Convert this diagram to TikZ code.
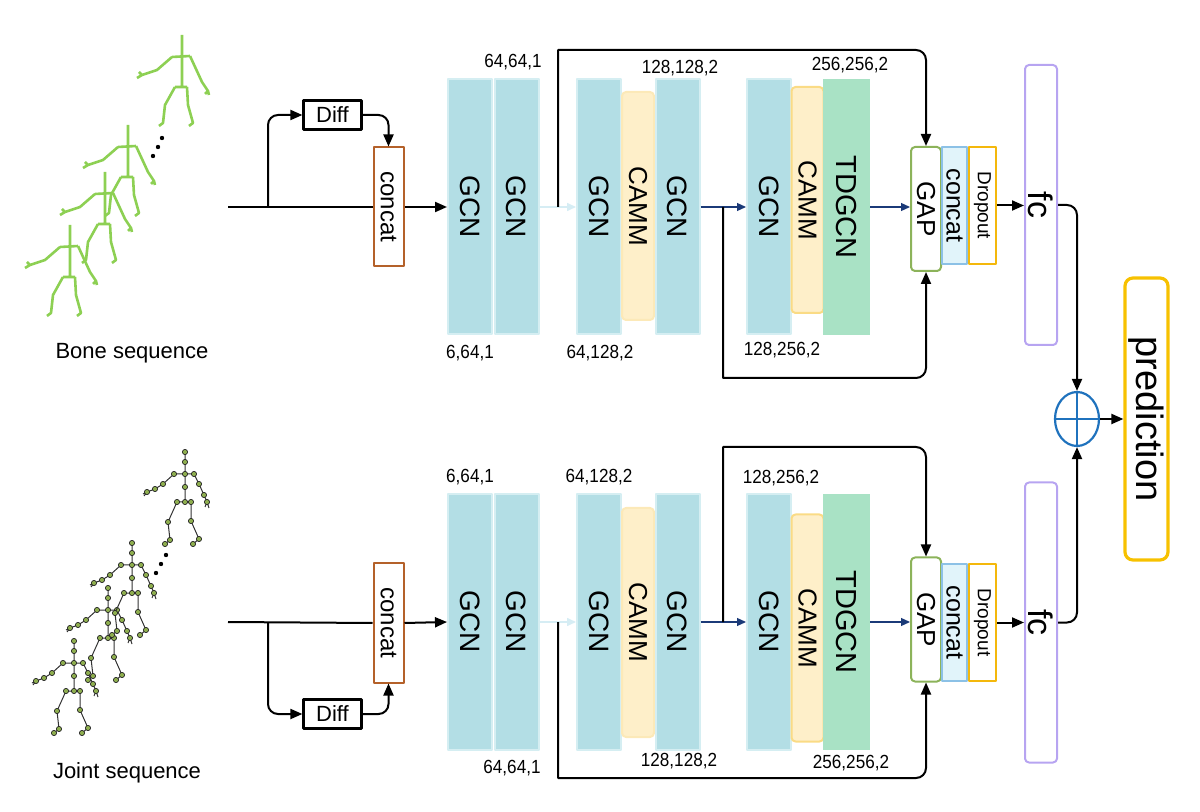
\documentclass[tikz,border=0pt]{standalone}
\usepackage{fontspec}
\setmainfont{Liberation Sans}
\usetikzlibrary{arrows.meta,shapes.geometric}
\definecolor{gcnfill}{HTML}{B3DEE5}
\definecolor{gcnline}{HTML}{D5EEF2}
\definecolor{cammfill}{HTML}{FEEFC9}
\definecolor{cammline}{HTML}{FCE9B8}
\definecolor{tdgfill}{HTML}{A9E2C5}
\definecolor{gapline}{HTML}{8CB35A}
\definecolor{ccfill}{HTML}{E1F4FA}
\definecolor{ccline}{HTML}{8CC1E6}
\definecolor{dropline}{HTML}{F4B80C}
\definecolor{fcline}{HTML}{B7A4F1}
\definecolor{predline}{HTML}{F7C100}
\definecolor{plusline}{HTML}{1F72BD}
\definecolor{catline}{HTML}{B4612A}
\definecolor{navyc}{HTML}{1B3A78}
\definecolor{palec}{HTML}{D6EDF4}
\definecolor{bonec}{HTML}{8DD053}
\definecolor{jdotc}{HTML}{8FAF4F}
\newcommand\vtext[1]{\rotatebox{-90}{#1}}
\newcommand\dimtext[1]{\scalebox{.9}[1]{#1}}
\tikzset{
  gcn/.style={draw=gcnline, line width=1pt, fill=gcnfill, minimum width=22pt, minimum height=127.5pt, inner sep=0pt, font=\fontsize{14}{14}\selectfont},
  camm/.style={draw=cammline, line width=1pt, fill=cammfill, rounded corners=2pt, minimum width=16pt, inner sep=0pt, font=\fontsize{13}{13}\selectfont},
  tdg/.style={fill=tdgfill, minimum width=23.5pt, minimum height=128pt, inner sep=0pt, font=\fontsize{14.5}{14.5}\selectfont},
  catbox/.style={draw=catline, line width=1pt, fill=white, minimum width=15pt, minimum height=59.5pt, inner sep=0pt, font=\fontsize{12}{12}\selectfont},
  diffbox/.style={draw, line width=1.1pt, fill=white, minimum width=29pt, minimum height=14.5pt, inner sep=0pt, font=\fontsize{11}{11}\selectfont},
  gapbox/.style={draw=gapline, line width=1pt, fill=white, rounded corners=2pt, minimum width=15pt, minimum height=62pt, inner sep=0pt, font=\fontsize{13}{13}\selectfont},
  ccbox/.style={draw=ccline, line width=1pt, fill=ccfill, minimum width=12.5pt, minimum height=58.5pt, inner sep=0pt, font=\fontsize{12.5}{12.5}\selectfont},
  dropbox/.style={draw=dropline, line width=1pt, fill=white, minimum width=13.5pt, minimum height=58.5pt, inner sep=0pt, font=\fontsize{9.5}{9.5}\selectfont},
  fcbox/.style={draw=fcline, line width=1pt, rounded corners=2pt, minimum width=16pt, minimum height=140pt, inner sep=0pt, font=\fontsize{17}{17}\selectfont},
  predbox/.style={draw=predline, line width=1.6pt, rounded corners=4pt, minimum width=21.5pt, minimum height=141pt, inner sep=0pt, font=\fontsize{19}{19}\selectfont},
  plusnode/.style={draw=plusline, line width=1.1pt, ellipse, minimum width=22pt, minimum height=27pt, inner sep=0pt},
  dim/.style={font=\fontsize{9.5}{9.5}\selectfont, inner sep=0pt},
  seqlabel/.style={font=\fontsize{11}{11}\selectfont, inner sep=0pt},
  arr/.style={-{Triangle[length=6pt,width=5pt]}, line width=1pt},
  navy/.style={-{Triangle[length=4.5pt,width=4pt]}, draw=navyc, line width=0.6pt},
  pale/.style={-{Triangle[length=4.5pt,width=4pt]}, draw=palec, line width=0.8pt},
  bone/.style={draw=bonec, line width=1.3pt},
  jline/.style={draw=black!80, line width=0.5pt},
  jdot/.style={draw=black!85, fill=jdotc, line width=0.35pt},
  bonefig/.pic={
    \draw[bone] (0,0)--(0,52) (-10,22)--(8,21) (-7,52)--(5,52)
      (-10,22)--(-25,35)--(-40,40)--(-45,43) (-40,40)--(-43,37)
      (8,21)--(20,47)--(26,56)--(27,60) (26,56)--(23,59)
      (-7,52)--(-17,70)--(-19,88)--(-23,91)
      (5,52)--(6,70)--(11,88)--(7,91);
  },
  jointfig/.pic={
    \draw[jline] (0,0)--(0,50) (-11,22)--(9,22) (-8,50)--(6,50)
      (-11,22)--(-22,32)--(-30,37)--(-38,40)--(-42,42) (-38,40)--(-41,44)
      (9,22)--(14,32)--(19,43)--(22,50)--(24,56) (22,50)--(20,55)
      (-8,50)--(-17,70)--(-15,88)--(-20,92)
      (6,50)--(6,69)--(14,87)--(8,92);
    \foreach \u/\v in {0/0,0/10,0/22,-11/22,9/22,-22/32,-30/37,-38/40,14/32,19/43,22/50,0/35,0/50,-8/50,6/50,-17/70,-15/88,-20/92,6/69,14/87,8/92}
      \filldraw[jdot] (\u,\v) circle (1.3pt);
  }
}
\begin{document}
\begin{tikzpicture}[x=0.5pt, y=-0.5pt, line join=round]
\useasboundingbox (0,0) rectangle (1200,812);
% skeleton sequences
\path (70,225) pic{bonefig} (105,172) pic{bonefig} (128,125) pic{bonefig} (182,35) pic{bonefig};
\fill (162,138) circle (1.1pt) (158,147) circle (1.1pt) (153,156) circle (1.1pt);
\path (74,641) pic{jointfig} (108,588) pic{jointfig} (132,543) pic{jointfig} (185,452) pic{jointfig};
\fill (166,555) circle (1.1pt) (161,564) circle (1.1pt) (156,573) circle (1.1pt);
\node[seqlabel] (bseq) at (132,353) {Bone sequence};
\node[seqlabel] (jseq) at (127,773) {Joint sequence};

% bone stream
\node[diffbox] (dif1) at (332.5,115) {Diff};
\node[catbox] (cat1) at (388.5,207) {\vtext{concat}};
\node[gcn] (a1) at (470,207) {\vtext{GCN}};
\node[gcn] (a2) at (516.5,207) {\vtext{GCN}};
\node[gcn] (a3) at (599,207) {\vtext{GCN}};
\node[camm, minimum height=114pt] (a4) at (638,206) {\vtext{CAMM}};
\node[gcn] (a5) at (677.5,207) {\vtext{GCN}};
\node[gcn] (a6) at (769,207) {\vtext{GCN}};
\node[camm, draw=dropline!50, minimum height=113pt] (a7) at (807.5,200) {\vtext{CAMM}};
\node[tdg] (a8) at (846.5,207) {\vtext{TDGCN}};
\node[gapbox] (gap1) at (926,209) {\vtext{GAP}};
\node[ccbox] (cc1) at (954.5,205.5) {\vtext{concat}};
\node[dropbox] (dr1) at (982.5,205.5) {\vtext{Dropout}};
\node[fcbox] (fc1) at (1041,205) {\vtext{fc}};
\node[dim] (la1) at (513,62) {\dimtext{64,64,1}};
\node[dim] (la2) at (470,353) {\dimtext{6,64,1}};
\node[dim] (la3) at (680,68) {\dimtext{128,128,2}};
\node[dim] (la4) at (600,353) {\dimtext{64,128,2}};
\node[dim] (la5) at (850,65) {\dimtext{256,256,2}};
\node[dim] (la6) at (782,350) {\dimtext{128,256,2}};

% joint stream
\node[diffbox] (dif2) at (332.5,714) {Diff};
\node[catbox] (cat2) at (388.5,623) {\vtext{concat}};
\node[gcn] (b1) at (470,622) {\vtext{GCN}};
\node[gcn] (b2) at (516.5,622) {\vtext{GCN}};
\node[gcn] (b3) at (599,622) {\vtext{GCN}};
\node[camm, minimum height=114.5pt] (b4) at (638,622.5) {\vtext{CAMM}};
\node[gcn] (b5) at (677.5,622) {\vtext{GCN}};
\node[gcn] (b6) at (769,622) {\vtext{GCN}};
\node[camm, draw=dropline!50, minimum height=113.5pt] (b7) at (807.5,628) {\vtext{CAMM}};
\node[tdg] (b8) at (846.5,622) {\vtext{TDGCN}};
\node[gapbox] (gap2) at (926,619.5) {\vtext{GAP}};
\node[ccbox] (cc2) at (954.5,622.5) {\vtext{concat}};
\node[dropbox] (dr2) at (982.5,622.5) {\vtext{Dropout}};
\node[fcbox] (fc2) at (1041,622.5) {\vtext{fc}};
\node[dim] (lb1) at (470,477) {\dimtext{6,64,1}};
\node[dim] (lb2) at (512,768) {\dimtext{64,64,1}};
\node[dim] (lb3) at (599,477) {\dimtext{64,128,2}};
\node[dim] (lb4) at (679,761) {\dimtext{128,128,2}};
\node[dim] (lb5) at (781,478) {\dimtext{128,256,2}};
\node[dim] (lb6) at (851,763) {\dimtext{256,256,2}};

% fusion
\node[plusnode] (plus) at (1077,419) {};
\draw[plusline, line width=1.1pt] (plus.north) -- (plus.south) (plus.west) -- (plus.east);
\node[predbox] (pred) at (1146.5,419) {\vtext{prediction}};

% connectors, bone stream
\coordinate (in1) at (228,207);
\coordinate (br1) at (268,207);
\coordinate (s1) at (558,207);
\coordinate (t1) at (558,50);
\coordinate (s2) at (723,207);
\coordinate (t2) at (723,378);
\draw[line width=1pt] (in1) -- (cat1.west);
\draw[arr] (cat1.east) -- (a1.west);
\draw[arr, rounded corners=5pt] (br1) |- (dif1.west);
\draw[arr, rounded corners=5pt] (dif1.east) -| (cat1.north);
\draw[pale] (a2.east) -- (a3.west);
\draw[arr] (s1) -- (t1) [rounded corners=5pt] -| (gap1.north);
\draw[navy] (a5.east) -- (a6.west);
\draw[arr] (s2) -- (t2) [rounded corners=5pt] -| (gap1.south);
\draw[navy] (a8.east) -- (a8.east -| gap1.west);
\draw[arr] (dr1.east) -- (dr1.east -| fc1.west);
\draw[arr, rounded corners=5pt] (fc1.east) -| (plus.north);

% connectors, joint stream
\coordinate (in2) at (228,622);
\coordinate (br2) at (268,622);
\coordinate (s3) at (558,622);
\coordinate (t3) at (558,778);
\coordinate (s4) at (723,622);
\coordinate (t4) at (723,447);
\draw[line width=1pt] (in2) -- (cat2.west);
\draw[arr] (cat2.east) -- (b1.west);
\draw[arr, rounded corners=5pt] (br2) |- (dif2.west);
\draw[arr, rounded corners=5pt] (dif2.east) -| (cat2.south);
\draw[pale] (b2.east) -- (b3.west);
\draw[arr] (s3) -- (t3) [rounded corners=5pt] -| (gap2.south);
\draw[navy] (b5.east) -- (b6.west);
\draw[arr] (s4) -- (t4) [rounded corners=5pt] -| (gap2.north);
\draw[navy] (b8.east) -- (b8.east -| gap2.west);
\draw[arr] (dr2.east) -- (dr2.east -| fc2.west);
\draw[arr, rounded corners=5pt] (fc2.east) -| (plus.south);
\draw[arr] (plus.east) -- (pred.west);
\end{tikzpicture}
\end{document}
